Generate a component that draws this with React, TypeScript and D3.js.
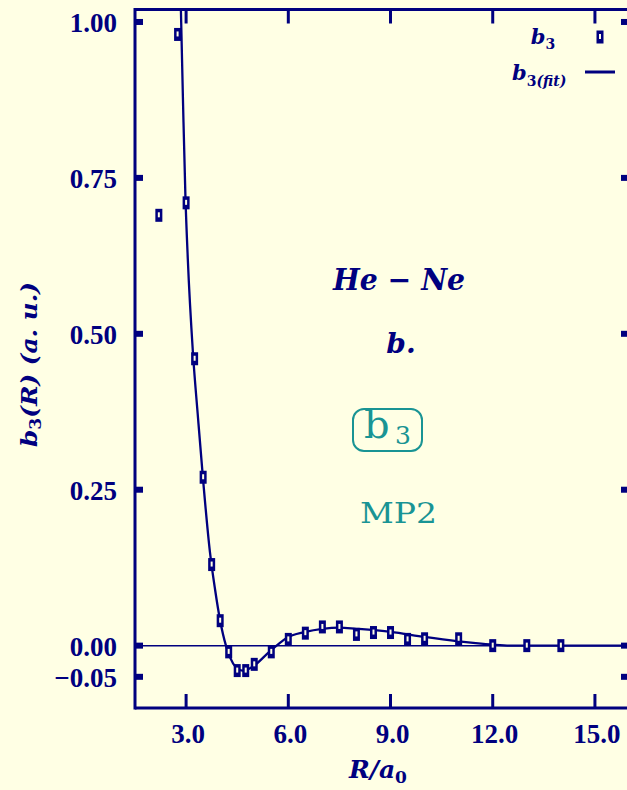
import React from "react";
import * as d3 from "d3";

// b3 coefficient values (a.u.) computed at each separation R/a0
const sampleR = [2.2, 2.75, 3.0, 3.25, 3.5, 3.75, 4.0, 4.25, 4.5, 4.75, 5.0, 5.5, 6.0, 6.5, 7.0, 7.5, 8.0, 8.5, 9.0, 9.5, 10.0, 11.0, 12.0, 13.0, 14.0];
const sampleB3 = [0.69, 0.98, 0.71, 0.46, 0.27, 0.13, 0.04, -0.01, -0.04, -0.04, -0.03, -0.01, 0.01, 0.02, 0.03, 0.03, 0.018, 0.021, 0.021, 0.01, 0.011, 0.011, 0.0, 0.0, 0.0];

// fitted curve b3(fit)
const fitR = [2.83, 2.91, 2.98, 3.05, 3.2, 3.35, 3.5, 3.7, 3.85, 4.0, 4.17, 4.3, 4.45, 4.65, 4.85, 5.0, 5.44, 5.7, 5.94, 6.5, 7.0, 7.5, 8.0, 9.0, 10.0, 11.0, 11.5, 12.0, 12.5, 16.0];
const fitB3 = [1.06, 0.87, 0.72, 0.62, 0.47, 0.365, 0.265, 0.15, 0.09, 0.04, 0.0, -0.02, -0.034, -0.04, -0.037, -0.032, -0.01, 0.002, 0.012, 0.022, 0.027, 0.029, 0.027, 0.022, 0.014, 0.007, 0.004, 0.0015, 0.0, 0.0];

const xTicks = [3, 6, 9, 12, 15];
const xTickLabels = ["3.0", "6.0", "9.0", "12.0", "15.0"];
const yTicks = [1.0, 0.75, 0.5, 0.25, 0.0, -0.05];
const yTickLabels = ["1.00", "0.75", "0.50", "0.25", "0.00", "\u22120.05"];

const NAVY = "#00007f";
const TEAL = "#199494";
const BG = "#ffffe4";
const MATH = "'DejaVu Serif', serif";
const TICKFONT = "'Liberation Serif', serif";

export default function App() {
  const W = 627;
  const H = 790;
  const left = 135;
  const right = 629;
  const top = 9.5;
  const bottom = 708;

  const x = d3.scaleLinear().domain([1.5, 16]).range([left, right]);
  const y = d3.scaleLinear().domain([-0.1, 1.02]).range([bottom, top]);

  const fitPts: [number, number][] = fitR.map((r, i) => [r, fitB3[i]]);
  const line = d3
    .line<[number, number]>()
    .x((d) => x(d[0]))
    .y((d) => y(d[1]))
    .curve(d3.curveMonotoneX);

  const marker = (key: React.Key, cx: number, cy: number) => (
    <g key={key} transform={`translate(${cx},${cy})`}>
      <rect x={-3.5} y={-6.5} width={7} height={13} fill={NAVY} />
      <rect x={-1} y={-3} width={2} height={5} fill={BG} />
    </g>
  );

  return (
    <svg
      width={W}
      height={H}
      style={{ position: "absolute", left: 0, top: 0, display: "block" }}
    >
      <rect x={0} y={0} width={W} height={H} fill={BG} />
      <defs>
        <clipPath id="plotArea">
          <rect x={left} y={top} width={right - left} height={bottom - top} />
        </clipPath>
      </defs>

      {/* zero reference line */}
      <line x1={left} x2={right} y1={y(0)} y2={y(0)} stroke={NAVY} strokeWidth={1.5} />

      {/* fitted curve */}
      <path d={line(fitPts) || ""} fill="none" stroke={NAVY} strokeWidth={2.3} clipPath="url(#plotArea)" />

      {/* computed points */}
      {sampleR.map((r, i) => marker(i, x(r), y(sampleB3[i])))}

      {/* frame */}
      <line x1={left} x2={left} y1={top - 1.5} y2={bottom + 1.5} stroke={NAVY} strokeWidth={3} />
      <line x1={left} x2={right} y1={top} y2={top} stroke={NAVY} strokeWidth={3} />
      <line x1={left} x2={right} y1={bottom} y2={bottom} stroke={NAVY} strokeWidth={3} />
      <line x1={right + 1} x2={right + 1} y1={top} y2={bottom} stroke={NAVY} strokeWidth={3} />

      {/* y ticks */}
      {yTicks.map((t, i) => (
        <g key={i}>
          <rect x={left} y={y(t) - 3} width={8} height={6} fill={NAVY} />
          <rect x={right - 8} y={y(t) - 3} width={8} height={6} fill={NAVY} />
          <text
            x={117}
            y={y(t) + 10.5}
            textAnchor="end"
            fontFamily={TICKFONT}
            fontWeight="bold"
            fontSize={27}
            fill={NAVY}
          >
            {yTickLabels[i]}
          </text>
        </g>
      ))}

      {/* x ticks */}
      {xTicks.map((t, i) => (
        <g key={i}>
          <line x1={x(t)} x2={x(t)} y1={bottom} y2={bottom - 14} stroke={NAVY} strokeWidth={3} />
          <line x1={x(t)} x2={x(t)} y1={top} y2={top + 14} stroke={NAVY} strokeWidth={3} />
          <text
            x={x(t) + 2}
            y={743}
            textAnchor="middle"
            fontFamily={TICKFONT}
            fontWeight="bold"
            fontSize={27}
            fill={NAVY}
          >
            {xTickLabels[i]}
          </text>
        </g>
      ))}

      {/* axis titles */}
      <text x={349} y={778} fontFamily={MATH} fontWeight="bold" fontStyle="italic" fontSize={25} fill={NAVY}>
        R/a<tspan fontSize={17} dy={5} fontStyle="normal">0</tspan>
      </text>
      <text
        transform="translate(37,364.5) rotate(-90)"
        textAnchor="middle"
        fontFamily={MATH}
        fontWeight="bold"
        fontStyle="italic"
        fontSize={23}
        textLength={165}
        lengthAdjust="spacingAndGlyphs"
        fill={NAVY}
      >
        b<tspan fontSize={16} dy={4} fontStyle="normal">3</tspan>
        <tspan dy={-4}>(R) (a. u.)</tspan>
      </text>

      {/* legend */}
      <text x={543} y={44} textAnchor="middle" fontFamily={MATH} fontWeight="bold" fontStyle="italic" fontSize={21} fill={NAVY}>
        b<tspan fontSize={14} dy={5} fontStyle="normal">3</tspan>
      </text>
      {marker("legend", 600, 37)}
      <text x={512} y={80} fontFamily={MATH} fontWeight="bold" fontStyle="italic" fontSize={21} fill={NAVY}>
        b<tspan fontSize={14} dy={6}><tspan fontStyle="normal">3</tspan>(fit)</tspan>
      </text>
      <line x1={585} x2={615} y1={72} y2={72} stroke={NAVY} strokeWidth={3} />

      {/* annotations */}
      <text
        x={399}
        y={290}
        textAnchor="middle"
        fontFamily={MATH}
        fontWeight="bold"
        fontStyle="italic"
        fontSize={30}
        textLength={132}
        lengthAdjust="spacingAndGlyphs"
        fill={NAVY}
      >
        He − Ne
      </text>
      <text x={401} y={353} textAnchor="middle" fontFamily={MATH} fontWeight="bold" fontStyle="italic" fontSize={28} fill={NAVY}>
        b.
      </text>

      <rect x={353} y={409} width={69} height={42} rx={11} ry={11} fill="none" stroke={TEAL} strokeWidth={2} />
      <text x={364} y={438} fontFamily={MATH} fontSize={40} fill={TEAL}>
        b
      </text>
      <text x={395} y={444} fontFamily={MATH} fontSize={25} fill={TEAL}>
        3
      </text>

      <text
        x={360}
        y={523}
        fontFamily={MATH}
        fontSize={28}
        textLength={77}
        lengthAdjust="spacingAndGlyphs"
        fill={TEAL}
      >
        MP2
      </text>
    </svg>
  );
}
